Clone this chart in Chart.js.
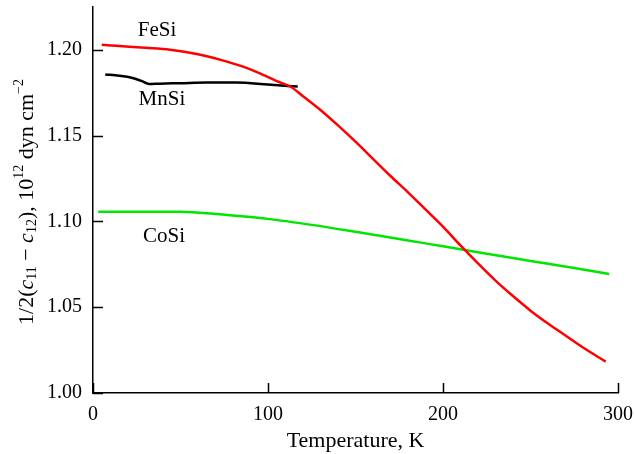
<!DOCTYPE html>
<html>
<head>
<meta charset="utf-8">
<script src="https://cdn.jsdelivr.net/npm/chart.js@4/dist/chart.umd.min.js"></script>
<style>
  html, body { margin: 0; padding: 0; background: #fff; }
  #wrap { width: 634px; height: 454px; position: relative; }
</style>
</head>
<body>
<div id="wrap"><canvas id="chart"></canvas></div>
<script>
// temperatures (K) and 1/2(c11 - c12) values (10^12 dyn cm^-2)
var feSiT = [5, 15, 30, 44, 60, 73, 85, 95, 105, 113, 120, 130, 140, 150, 160, 170, 180, 190, 200, 210, 220, 230, 240, 250, 260, 270, 280, 293];
var feSiV = [1.2030, 1.2022, 1.2012, 1.2001, 1.1975, 1.1942, 1.1905, 1.1865, 1.1818, 1.1785, 1.1730, 1.1650, 1.1560, 1.1465, 1.1365, 1.1265, 1.1170, 1.1070, 1.0970, 1.0860, 1.0755, 1.0655, 1.0565, 1.0480, 1.0405, 1.0335, 1.0265, 1.0183];

var mnSiT = [7, 15, 22, 28, 32, 38, 50, 65, 82, 100, 117];
var mnSiV = [1.1857, 1.1849, 1.1838, 1.1818, 1.1801, 1.1803, 1.1806, 1.1810, 1.1810, 1.1798, 1.1786];

var coSiT = [3, 20, 40, 50, 65, 80, 100, 125, 150, 175, 200, 225, 250, 275, 295];
var coSiV = [1.1056, 1.1057, 1.1057, 1.1056, 1.1048, 1.1035, 1.1015, 1.0980, 1.0940, 1.0898, 1.0855, 1.0812, 1.0770, 1.0728, 1.0694];

var xTicks = [0, 100, 200, 300];
var yTicks = [1.00, 1.05, 1.10, 1.15, 1.20];

// curve labels placed in data coordinates
var labelText = ['FeSi', 'MnSi', 'CoSi'];
var labelX = [36.6, 39.4, 40.6];
var labelY = [1.2112, 1.1709, 1.0910];

var SERIF = '"Liberation Serif", "DejaVu Serif", serif';

function toPoints(xs, ys) {
    var i, out = [];
    for (i = 0; i < xs.length; i += 1) {
        out.push({ x: xs[i], y: ys[i] });
    }
    return out;
}

function series(xs, ys, color) {
    return {
        data: toPoints(xs, ys),
        borderColor: color,
        borderWidth: 2.5,
        pointRadius: 0,
        fill: false,
        cubicInterpolationMode: 'monotone'
    };
}

// inward tick marks on both axes
var tickPlugin = {
    id: 'inTicks',
    afterDraw: function (chart) {
        var ctx = chart.ctx, xs = chart.scales.x, ys = chart.scales.y;
        var area = chart.chartArea, i, p;
        ctx.save();
        ctx.strokeStyle = '#000';
        ctx.lineWidth = 1.5;
        ctx.beginPath();
        for (i = 0; i < yTicks.length; i += 1) {
            p = Math.round(ys.getPixelForValue(yTicks[i])) + 0.5;
            ctx.moveTo(area.left, p);
            ctx.lineTo(area.left + 10, p);
        }
        for (i = 0; i < xTicks.length; i += 1) {
            p = Math.round(xs.getPixelForValue(xTicks[i])) + 0.5;
            ctx.moveTo(p, area.bottom);
            ctx.lineTo(p, area.bottom - 10);
        }
        ctx.stroke();
        ctx.restore();
    }
};

// curve names
var labelPlugin = {
    id: 'curveLabels',
    afterDraw: function (chart) {
        var ctx = chart.ctx, i;
        ctx.save();
        ctx.fillStyle = '#000';
        ctx.font = '21px ' + SERIF;
        ctx.textAlign = 'center';
        ctx.textBaseline = 'middle';
        for (i = 0; i < labelText.length; i += 1) {
            ctx.fillText(labelText[i],
                chart.scales.x.getPixelForValue(labelX[i]),
                chart.scales.y.getPixelForValue(labelY[i]));
        }
        ctx.restore();
    }
};

// rotated y title with sub/superscripts
var yTitlePlugin = {
    id: 'yTitle',
    afterDraw: function (chart) {
        var ctx = chart.ctx, area = chart.chartArea;
        var parts = [
            { t: '1/2(', s: 22, dy: 0, it: false },
            { t: 'c', s: 22, dy: 0, it: true },
            { t: '11', s: 14, dy: 5, it: false },
            { t: ' \u2212 ', s: 22, dy: 0, it: false },
            { t: 'c', s: 22, dy: 0, it: true },
            { t: '12', s: 14, dy: 5, it: false },
            { t: '), 10', s: 22, dy: 0, it: false },
            { t: '12', s: 14, dy: -8, it: false },
            { t: ' dyn cm', s: 22, dy: 0, it: false },
            { t: '\u22122', s: 14, dy: -8, it: false }
        ];
        var i, w = 0, pos;
        ctx.save();
        for (i = 0; i < parts.length; i += 1) {
            ctx.font = (parts[i].it ? 'italic ' : '') + parts[i].s + 'px ' + SERIF;
            parts[i].w = ctx.measureText(parts[i].t).width;
            w += parts[i].w;
        }
        ctx.translate(27, (area.top + area.bottom) / 2 + 2);
        ctx.rotate(-Math.PI / 2);
        ctx.fillStyle = '#000';
        ctx.textBaseline = 'middle';
        ctx.textAlign = 'left';
        pos = -w / 2;
        for (i = 0; i < parts.length; i += 1) {
            ctx.font = (parts[i].it ? 'italic ' : '') + parts[i].s + 'px ' + SERIF;
            ctx.fillText(parts[i].t, pos, parts[i].dy);
            pos += parts[i].w;
        }
        ctx.restore();
    }
};

new Chart(document.getElementById('chart'), {
    type: 'line',
    data: {
        datasets: [
            series(feSiT, feSiV, '#ff0000'),
            series(mnSiT, mnSiV, '#000000'),
            series(coSiT, coSiV, '#00e600')
        ]
    },
    options: {
        responsive: true,
        maintainAspectRatio: false,
        animation: false,
        layout: { padding: { top: 7, right: 16, left: 0, bottom: 0 } },
        plugins: {
            legend: { display: false },
            tooltip: { enabled: false }
        },
        scales: {
            x: {
                type: 'linear',
                min: 0,
                max: 300,
                afterBuildTicks: function (scale) {
                    scale.ticks = xTicks.map(function (v) { return { value: v }; });
                },
                afterFit: function (scale) {
                    scale.height = 61;
                    scale.paddingLeft = 0;
                    scale.paddingRight = 0;
                },
                grid: { display: false, drawTicks: false },
                border: { display: true, color: '#000', width: 1.5 },
                ticks: {
                    color: '#000',
                    padding: 10,
                    maxRotation: 0,
                    font: { family: SERIF, size: 20 },
                    callback: function (v) { return String(v); }
                },
                title: {
                    display: true,
                    text: 'Temperature, K',
                    color: '#000',
                    padding: { top: 0, bottom: 0 },
                    font: { family: SERIF, size: 22 }
                }
            },
            y: {
                min: 1.0,
                max: 1.225,
                afterBuildTicks: function (scale) {
                    scale.ticks = yTicks.map(function (v) { return { value: v }; });
                },
                afterFit: function (scale) {
                    scale.width = 93;
                    scale.paddingTop = 0;
                    scale.paddingBottom = 0;
                },
                grid: { display: false, drawTicks: false },
                border: { display: true, color: '#000', width: 1.5 },
                ticks: {
                    color: '#000',
                    padding: 11,
                    font: { family: SERIF, size: 20 },
                    callback: function (v) { return Number(v).toFixed(2); }
                }
            }
        }
    },
    plugins: [tickPlugin, labelPlugin, yTitlePlugin]
});
</script>
</body>
</html>
